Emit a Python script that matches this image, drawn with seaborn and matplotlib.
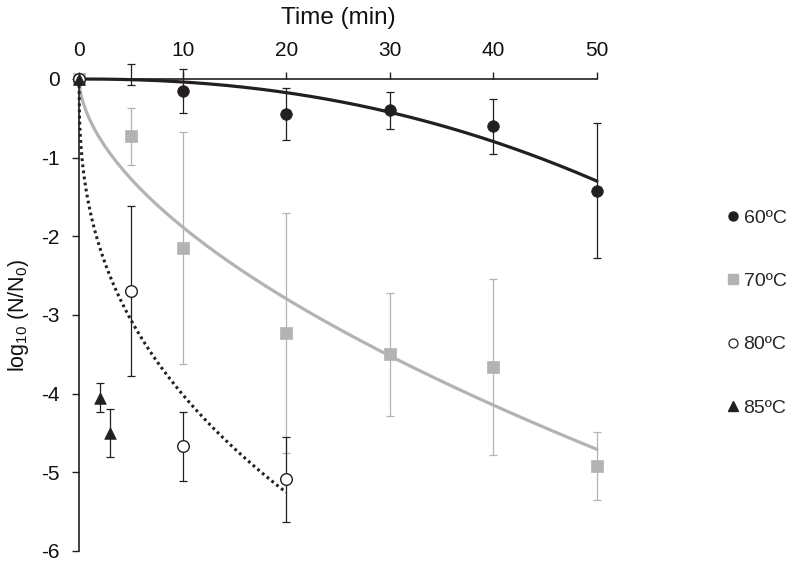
import numpy as np
import pandas as pd
import matplotlib
matplotlib.use("Agg")
import matplotlib.pyplot as plt
from matplotlib.lines import Line2D
import seaborn as sns

# Veriler
t_60 = [0, 10, 20, 30, 40, 50]
y_60 = [0.0, -0.15, -0.45, -0.40, -0.60, -1.42]
e_60 = [0.0, 0.28, 0.33, 0.24, 0.35, 0.86]

t_70 = [0, 5, 10, 20, 30, 40, 50]
y_70 = [0.0, -0.73, -2.15, -3.23, -3.50, -3.66, -4.92]
e_70 = [0.0, 0.36, 1.47, 1.53, 0.78, 1.12, 0.43]

t_80 = [0, 5, 10, 20]
y_80 = [0.0, -2.70, -4.67, -5.09]
e_80 = [0.0, 1.08, 0.44, 0.54]

t_85 = [0, 2, 3]
y_85 = [0.0, -4.05, -4.50]
e_85 = [0.0, 0.18, 0.31]

# t=5 dakikadaki isaretsiz hata cubugu
t_extra = [5]
y_extra = [0.06]
e_extra = [0.13]

# Weibull model parametreleri (delta, p) ve egri bitis zamanlari
fit_60 = (44.4, 2.2, 50)
fit_70 = (3.3, 0.57, 50)
fit_80 = (0.284, 0.39, 20)

labels = ["60ºC", "70ºC", "80ºC", "85ºC"]

dark = "#231f20"
grey = "#b3b3b3"

sns.set_theme(style="ticks")
plt.rcParams["font.family"] = ["Liberation Sans", "DejaVu Sans"]
plt.rcParams["mathtext.default"] = "regular"
plt.rcParams["axes.unicode_minus"] = False

fig = plt.figure(figsize=(7.87, 5.62), dpi=100)
ax = fig.add_axes([79 / 787, 1 - 551 / 562, (597 - 79) / 787, (551 - 79) / 562])


def weibull_curve(params):
    delta, p, t_end = params
    t = np.linspace(0, t_end, 400)
    return pd.DataFrame({"t": t, "y": -(t / delta) ** p})


# model egrileri
c60 = weibull_curve(fit_60)
c70 = weibull_curve(fit_70)
c80 = weibull_curve(fit_80)
sns.lineplot(data=c70, x="t", y="y", ax=ax, color=grey, lw=2.3, zorder=2)
sns.lineplot(data=c60, x="t", y="y", ax=ax, color=dark, lw=2.3, zorder=3)
sns.lineplot(data=c80, x="t", y="y", ax=ax, color=dark, lw=2.2, zorder=3)
ax.lines[-1].set_linestyle((0, (0.9, 1.1)))
for ln in ax.lines:
    ln.set_clip_on(False)

# hata cubuklari
eb = dict(fmt="none", elinewidth=0.9, capsize=3, capthick=0.9, clip_on=False)
ax.errorbar(t_70, y_70, yerr=e_70, ecolor=grey, zorder=1, **eb)
ax.errorbar(t_60, y_60, yerr=e_60, ecolor=dark, zorder=4, **eb)
ax.errorbar(t_80, y_80, yerr=e_80, ecolor=dark, zorder=4, **eb)
ax.errorbar(t_85, y_85, yerr=e_85, ecolor=dark, zorder=4, **eb)
ax.errorbar(t_extra, y_extra, yerr=e_extra, ecolor=dark, zorder=4, **eb)

# noktalar
sc = dict(ax=ax, s=70, clip_on=False, zorder=5)
sns.scatterplot(x=t_70, y=y_70, marker="s", color=grey, edgecolor=grey, linewidth=0.5, **sc)
sns.scatterplot(x=t_60, y=y_60, marker="o", color=dark, edgecolor=dark, linewidth=0.5, **sc)
sns.scatterplot(x=t_80, y=y_80, marker="o", color="white", edgecolor=dark, linewidth=1.0, **sc)
sns.scatterplot(x=t_85, y=y_85, marker="^", color=dark, edgecolor=dark, linewidth=0.5, **sc)

# eksenler
ax.set_xlim(0, 50)
ax.set_ylim(-6, 0)
ax.set_xticks(range(0, 51, 10))
ax.set_yticks(range(-6, 1))
ax.xaxis.tick_top()
ax.xaxis.set_label_position("top")
for s in ["bottom", "right"]:
    ax.spines[s].set_visible(False)
for s in ["top", "left"]:
    ax.spines[s].set_color(dark)
    ax.spines[s].set_linewidth(1.2)
ax.tick_params(axis="both", length=5, width=1.0, color=dark, pad=9,
               labelsize=15, labelcolor="#111111")
ax.set_xlabel("Time (min)", fontsize=17.5, labelpad=12, color="#111111")
ax.set_ylabel("log$_{10}$ (N/N$_0$)", fontsize=15.5, labelpad=7, color="#111111")

# lejant
handles = [
    Line2D([], [], ls="none", marker="o", ms=6.5, color=dark),
    Line2D([], [], ls="none", marker="s", ms=6.5, color=grey),
    Line2D([], [], ls="none", marker="o", ms=6.5, mfc="white", mec=dark, mew=0.9),
    Line2D([], [], ls="none", marker="^", ms=6.5, color=dark),
]
ax.legend(handles, labels, loc="center left", bbox_to_anchor=(727 / 787, 1 - 313 / 562),
          bbox_transform=fig.transFigure, frameon=False, fontsize=14,
          labelspacing=2.35, handlelength=0.6, handletextpad=0.25,
          borderpad=0, borderaxespad=0)

fig.savefig("out.png", dpi=100)
